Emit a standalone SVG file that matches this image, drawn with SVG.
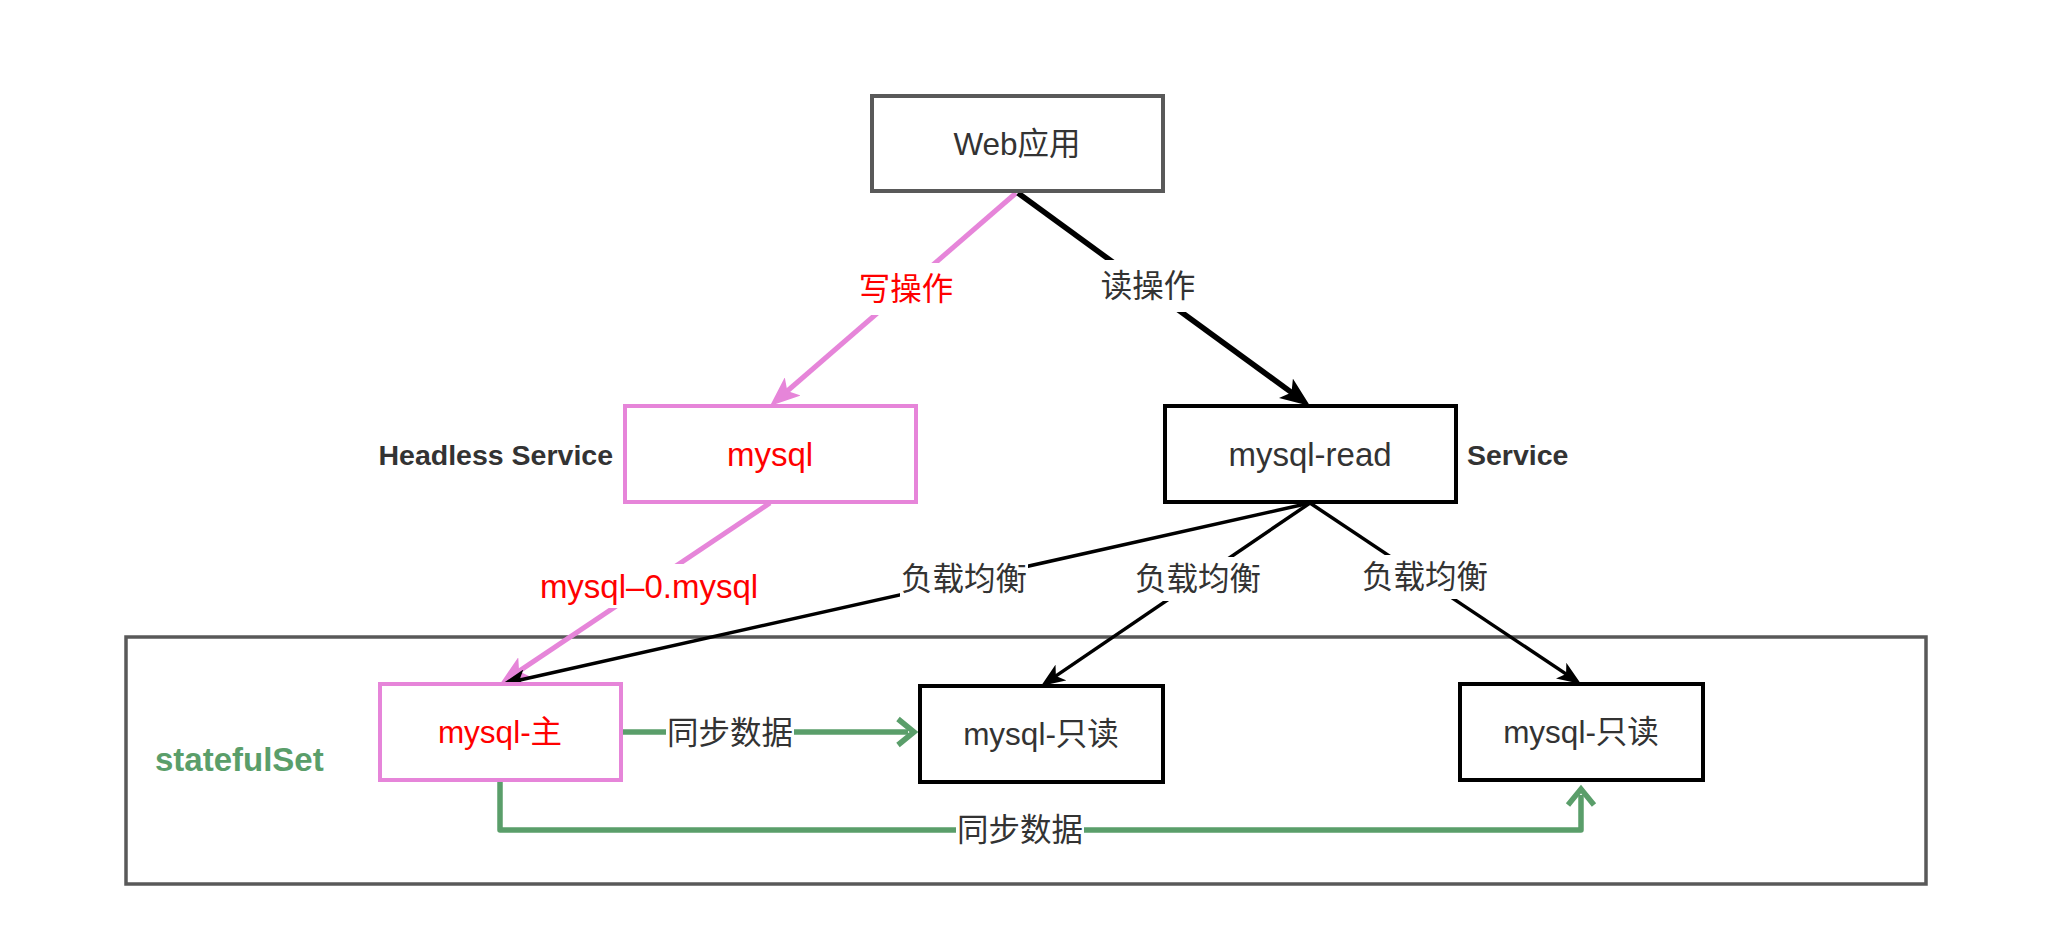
<svg xmlns="http://www.w3.org/2000/svg" width="2060" height="944" viewBox="0 0 2060 944">
<style>
  text { font-family: "Liberation Sans", "Noto Sans CJK SC", sans-serif; font-size: 31.5px; fill: #333333; text-anchor: middle; }
  .lat { font-size: 33px; }
  .red { fill: #ff0000; }
  .bold { font-weight: bold; font-size: 28.5px; fill: #333333; }
  .green-t { font-weight: bold; font-size: 33px; fill: #5a9e6a; text-anchor: start; }
  .box { fill: #ffffff; stroke-width: 4; }
  .gray { stroke: #595959; }
  .black { stroke: #000000; }
  .pink { stroke: #e685d9; }
  .bg { fill: #ffffff; stroke: none; }
  .c-pink { stroke: #e685d9; stroke-width: 5; fill: none; }
  .c-read { stroke: #000000; stroke-width: 5.5; fill: none; }
  .c-lb { stroke: #000000; stroke-width: 3.5; fill: none; }
  .c-green { stroke: #5a9e6a; stroke-width: 5.5; fill: none; stroke-linejoin: round; }
</style>
<defs>
  <marker id="arrPink" viewBox="0 0 30 24" refX="20" refY="12" markerWidth="30" markerHeight="24" markerUnits="userSpaceOnUse" orient="auto">
    <path d="M0,0 L30,12 L0,24 L7,12 Z" fill="#e685d9"/>
  </marker>
  <marker id="arrBlack" viewBox="0 0 30 24" refX="20" refY="12" markerWidth="30" markerHeight="24" markerUnits="userSpaceOnUse" orient="auto">
    <path d="M0,0 L30,12 L0,24 L7,12 Z" fill="#000000"/>
  </marker>
  <marker id="arrLb" viewBox="0 0 24 19" refX="17" refY="9.5" markerWidth="24" markerHeight="19" markerUnits="userSpaceOnUse" orient="auto">
    <path d="M0,0 L24,9.5 L0,19 L6,9.5 Z" fill="#000000"/>
  </marker>
  <marker id="arrGreen" viewBox="-3 -3 24 32" refX="10" refY="13" markerWidth="24" markerHeight="32" markerUnits="userSpaceOnUse" orient="auto">
    <path d="M0,0 L16,13 L0,26" fill="none" stroke="#5a9e6a" stroke-width="5.5" stroke-linejoin="miter"/>
  </marker>
</defs>

<g id="statefulSet">
  <rect x="126" y="637" width="1800" height="247" fill="none" stroke="#595959" stroke-width="3.5"/>
  <text class="green-t" x="155" y="771">statefulSet</text>
</g>

<g id="connectors">
  <line class="c-pink" x1="1016" y1="193" x2="777.5" y2="399.5" marker-end="url(#arrPink)"/>
  <line class="c-read" x1="1018" y1="193" x2="1302" y2="400.1" marker-end="url(#arrBlack)"/>
  <line class="c-pink" x1="770" y1="503" x2="508.3" y2="678.4" marker-end="url(#arrPink)"/>
  <line class="c-lb" x1="1310" y1="503" x2="508.8" y2="682.5" marker-end="url(#arrLb)"/>
  <line class="c-lb" x1="1310" y1="503" x2="1046.8" y2="682.1" marker-end="url(#arrLb)"/>
  <line class="c-lb" x1="1310" y1="503" x2="1575.2" y2="680.1" marker-end="url(#arrLb)"/>
  <line class="c-green" x1="623" y1="732" x2="908" y2="732" marker-end="url(#arrGreen)"/>
  <path class="c-green" d="M500,781 L500,830 L1581,830 L1581,795" marker-end="url(#arrGreen)"/>

  <rect class="bg" x="856" y="263" width="100" height="52"/>
  <text class="red" x="906" y="300">写操作</text>
  <rect class="bg" x="1098" y="260" width="100" height="52"/>
  <text x="1148" y="297">读操作</text>
  <rect class="bg" x="536" y="564" width="226" height="44"/>
  <text class="red lat" x="649" y="598">mysql–0.mysql</text>
  <rect class="bg" x="900" y="557" width="128" height="44"/>
  <text x="964" y="590">负载均衡</text>
  <rect class="bg" x="1134" y="557" width="128" height="44"/>
  <text x="1198" y="590">负载均衡</text>
  <rect class="bg" x="1361" y="555" width="128" height="44"/>
  <text x="1425" y="588">负载均衡</text>
  <rect class="bg" x="666" y="712" width="128" height="42"/>
  <text x="730" y="744">同步数据</text>
  <rect class="bg" x="956" y="810" width="128" height="42"/>
  <text x="1020" y="841">同步数据</text>
</g>

<g id="web">
  <rect class="box gray" x="872" y="96" width="291" height="95"/>
  <text x="1017" y="155">Web应用</text>
</g>
<g id="mysql">
  <rect class="box pink" x="625" y="406" width="291" height="96"/>
  <text class="red lat" x="770" y="466">mysql</text>
  <text class="bold" x="613" y="465" style="text-anchor:end">Headless Service</text>
</g>
<g id="mysql-read">
  <rect class="box black" x="1165" y="406" width="291" height="96"/>
  <text class="lat" x="1310" y="466">mysql-read</text>
  <text class="bold" x="1467" y="465" style="text-anchor:start">Service</text>
</g>
<g id="mysql-master">
  <rect class="box pink" x="380" y="684" width="241" height="96"/>
  <text class="red" x="500" y="743">mysql-主</text>
</g>
<g id="mysql-readonly-1">
  <rect class="box black" x="920" y="686" width="243" height="96"/>
  <text x="1041" y="745">mysql-只读</text>
</g>
<g id="mysql-readonly-2">
  <rect class="box black" x="1460" y="684" width="243" height="96"/>
  <text x="1581" y="743">mysql-只读</text>
</g>
</svg>
